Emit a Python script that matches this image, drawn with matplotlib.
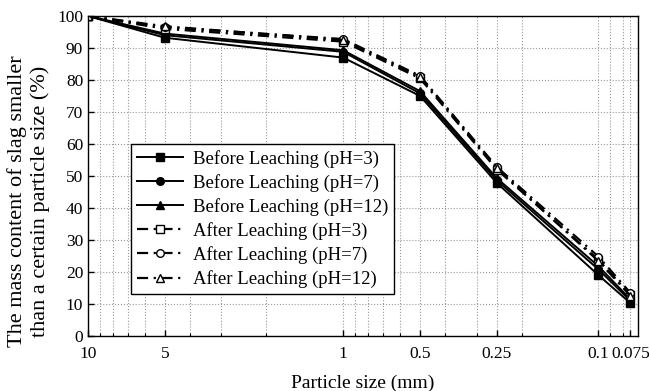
import matplotlib
matplotlib.use("Agg")
import matplotlib.pyplot as plt
from matplotlib.ticker import FixedLocator, FixedFormatter, NullFormatter
import numpy as np

plt.rcParams['font.family'] = ['Liberation Serif', 'DejaVu Serif']

sizes = [10, 5, 1, 0.5, 0.25, 0.1, 0.075]
tick_labels = ["10", "5", "1", "0.5", "0.25", "0.1", "0.075"]

before_ph3 = [100, 93.2, 87.0, 75.0, 47.8, 19.0, 10.3]
before_ph7 = [100, 94.0, 88.8, 75.8, 48.6, 20.8, 11.0]
before_ph12 = [100, 94.5, 89.3, 76.5, 49.3, 21.8, 11.5]
after_ph3 = [100, 96.0, 92.0, 80.5, 52.0, 23.8, 12.8]
after_ph7 = [100, 96.5, 92.8, 81.3, 52.8, 24.8, 13.5]
after_ph12 = [100, 96.8, 92.5, 81.0, 52.4, 23.4, 12.6]

fig = plt.figure(figsize=(6.49, 3.91), dpi=100)
ax = fig.add_axes([88/649, 1-336/391, (638-88)/649, (336-16)/391])

ms = 5.5
dd = (5, 2.5, 1, 2.5)
ax.plot(sizes, before_ph3, '-', color='black', lw=1.4, marker='s', ms=ms, label='Before Leaching (pH=3)')
ax.plot(sizes, before_ph7, '-', color='black', lw=1.4, marker='o', ms=ms, label='Before Leaching (pH=7)')
ax.plot(sizes, before_ph12, '-', color='black', lw=1.4, marker='^', ms=ms, label='Before Leaching (pH=12)')
ax.plot(sizes, after_ph3, color='black', lw=1.6, dashes=dd, marker='s', ms=ms, mfc='white', mew=1.0, label='After Leaching (pH=3)')
ax.plot(sizes, after_ph7, color='black', lw=1.6, dashes=dd, marker='o', ms=ms, mfc='white', mew=1.0, label='After Leaching (pH=7)')
ax.plot(sizes, after_ph12, color='black', lw=1.6, dashes=dd, marker='^', ms=ms, mfc='white', mew=1.0, label='After Leaching (pH=12)')

ax.set_xscale('log')
ax.set_xlim(10, 0.07)
ax.set_ylim(0, 100)
ax.xaxis.set_major_locator(FixedLocator(sizes))
ax.xaxis.set_major_formatter(FixedFormatter(tick_labels))
minor = [9, 8, 7, 6, 4, 3, 2, 0.9, 0.8, 0.7, 0.6, 0.4, 0.3, 0.2, 0.09, 0.08]
ax.xaxis.set_minor_locator(FixedLocator(minor))
ax.xaxis.set_minor_formatter(NullFormatter())
ax.set_yticks(np.arange(0, 101, 10))

ax.grid(True, which='both', axis='x', ls=':', color='#999999', lw=0.8)
ax.grid(True, which='major', axis='y', ls=':', color='#999999', lw=0.8)
ax.tick_params(which='both', direction='in', labelsize=12.5, top=False, right=False)
ax.tick_params(axis='x', which='both', pad=7)
ax.tick_params(which='major', length=4, width=1)
ax.tick_params(which='minor', length=2.5, width=0.8)
for s in ax.spines.values():
    s.set_linewidth(1.0)

ax.set_xlabel('Particle size (mm)', fontsize=14, labelpad=9)
ax.set_ylabel('The mass content of slag smaller\nthan a certain particle size (%)', fontsize=16)
ax.yaxis.set_label_coords(-0.069, 0.42)

leg = ax.legend(loc='upper left', bbox_to_anchor=(0.078, 0.6), fontsize=13.5, frameon=True,
                fancybox=False, edgecolor='black', framealpha=1, handlelength=2.5,
                borderpad=0.3, labelspacing=0.33, handletextpad=0.5, borderaxespad=0)
leg.get_frame().set_linewidth(1.0)

fig.savefig('out.png', dpi=100)
